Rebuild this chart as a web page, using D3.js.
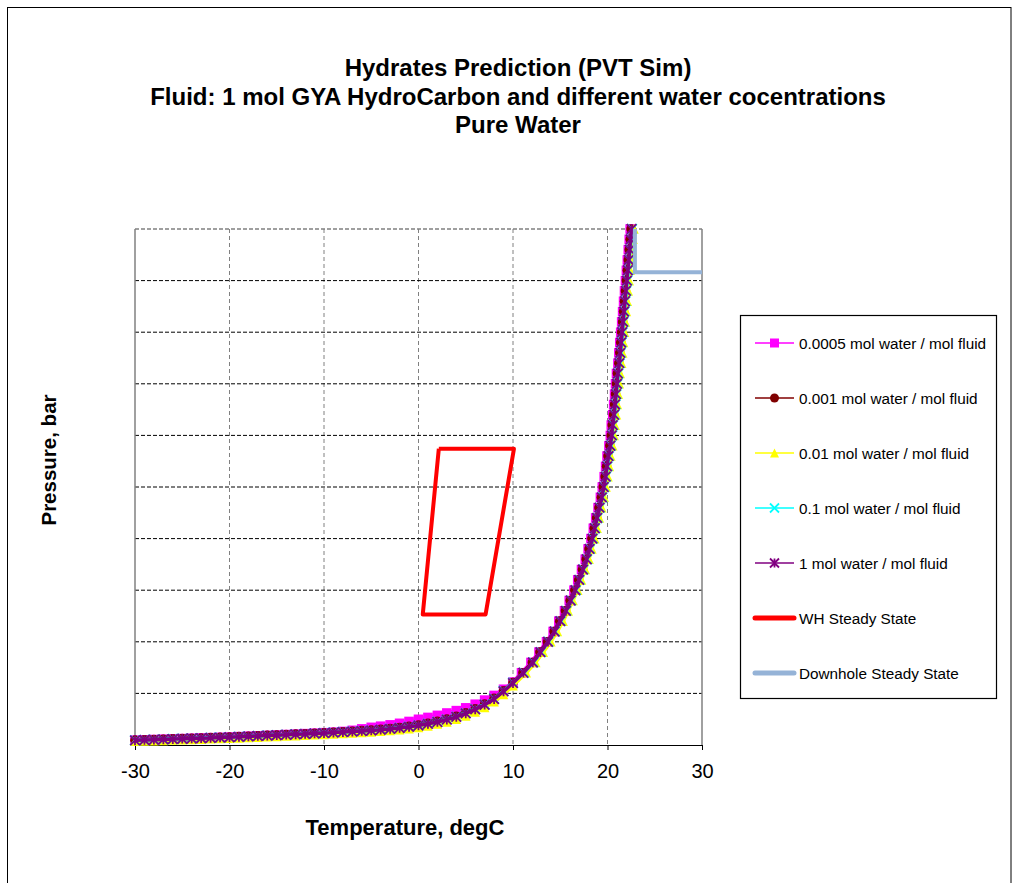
<!DOCTYPE html>
<html><head><meta charset="utf-8">
<script src="https://cdn.jsdelivr.net/npm/d3@7"></script>
<style>body{margin:0;background:#fff;} svg{display:block;font-family:"Liberation Sans",Arial,sans-serif;}</style>
</head><body><svg id="c" width="1019" height="883"></svg>
<script>
// ---- data ----
const titleLines = ["Hydrates Prediction (PVT Sim)", "Fluid: 1 mol GYA HydroCarbon and different water cocentrations", "Pure Water"];
const xTicks = [-30, -20, -10, 0, 10, 20, 30];
const yGrid = [50, 100, 150, 200, 250, 300, 350, 400, 450];
// low-temperature section: shared temperature grid, pressure per series
const tempsLow = [-30,-29,-28,-27,-26,-25,-24,-23,-22,-21,-20,-19,-18,-17,-16,-15,-14,-13,-12,-11,-10,-9,-8,-7,-6,-5,-4,-3,-2,-1,0,1,2,3,4,5,6,7,8,9,10];
// high-pressure section: shared pressure grid, temperature per series
const pressHigh = [70,80,90,100,110,120,130,140,150,160,170,180,190,200,210,220,230,240,250,260,270,280,290,300,310,320,330,340,350,360,370,380,390,400,410,420,430,440,450,460,470,480,490,500];

const seriesNames = ["0.0005 mol water / mol fluid","0.001 mol water / mol fluid","0.01 mol water / mol fluid","0.1 mol water / mol fluid","1 mol water / mol fluid"];
const pLow_00005 = [4.7,5.0,5.3,5.6,5.9,6.2,6.5,6.8,7.1,7.4,7.7,8.1,8.5,8.9,9.3,9.7,10.1,10.5,11.0,11.4,11.9,12.4,13.1,14.2,15.6,17.1,18.2,19.5,21.0,22.8,24.9,26.7,28.7,31.0,33.3,36.0,39.5,43.5,48.0,54.0,61.0];
const pLow_0001  = [4.7,5.0,5.3,5.6,5.9,6.2,6.5,6.8,7.1,7.4,7.7,8.1,8.5,8.9,9.3,9.7,10.1,10.5,10.9,11.3,11.8,12.3,12.8,13.3,13.9,14.5,15.2,16.0,17.0,18.1,19.4,21.0,22.9,25.1,27.8,31.2,35.1,39.6,45.2,52.6,60.6];
const pLow_001   = [3.6,3.9,4.2,4.5,4.8,5.1,5.4,5.7,6.0,6.3,6.6,6.9,7.3,7.6,8.0,8.3,8.7,9.1,9.5,9.9,10.3,10.7,11.2,11.7,12.2,12.7,13.3,14.0,14.8,15.8,17.0,18.5,20.3,22.4,25.0,28.2,32.0,36.5,42.0,49.0,57.5];
const pLow_01    = [4.6,4.9,5.2,5.5,5.8,6.1,6.4,6.7,7.0,7.3,7.6,8.0,8.4,8.8,9.2,9.6,10.0,10.4,10.8,11.2,11.6,12.1,12.6,13.1,13.6,14.2,14.9,15.7,16.7,17.8,19.1,20.7,22.5,24.8,27.5,30.9,34.8,39.3,44.8,52.3,60.3];
const pLow_1     = [4.5,4.8,5.1,5.4,5.7,6.0,6.3,6.6,6.9,7.2,7.5,7.9,8.3,8.7,9.1,9.5,9.9,10.3,10.7,11.1,11.5,12.0,12.5,13.0,13.5,14.1,14.8,15.6,16.5,17.6,18.9,20.5,22.3,24.6,27.2,30.6,34.5,39.0,44.5,52.0,60.0];

const tHigh_00005 = [10.9,11.9,12.75,13.55,14.25,14.85,15.45,15.95,16.45,16.85,17.25,17.65,17.95,18.25,18.5,18.75,19.0,19.25,19.45,19.65,19.8,19.95,20.15,20.3,20.4,20.55,20.65,20.75,20.85,20.95,21.1,21.2,21.3,21.4,21.5,21.6,21.7,21.8,21.9,22.0,22.1,22.2,22.3,22.4];
const tHigh_0001  = [11.05,12.05,12.85,13.65,14.35,14.95,15.55,16.05,16.55,16.95,17.35,17.75,18.05,18.35,18.6,18.85,19.1,19.35,19.55,19.75,19.9,20.05,20.25,20.4,20.5,20.65,20.75,20.85,20.95,21.05,21.2,21.3,21.4,21.5,21.6,21.7,21.8,21.9,22.0,22.1,22.2,22.3,22.4,22.5];
const tHigh_001   = [11.4,12.4,13.2,14.0,14.7,15.3,15.85,16.35,16.85,17.25,17.65,18.05,18.35,18.65,18.9,19.15,19.4,19.65,19.85,20.05,20.2,20.35,20.55,20.7,20.8,20.95,21.05,21.15,21.25,21.35,21.5,21.6,21.7,21.8,21.9,22.0,22.1,22.2,22.3,22.4,22.5,22.6,22.7,22.8];
const tHigh_01    = [11.15,12.15,12.95,13.75,14.45,15.05,15.65,16.15,16.65,17.05,17.45,17.85,18.15,18.45,18.7,18.95,19.2,19.45,19.65,19.85,20.0,20.15,20.35,20.5,20.6,20.75,20.85,20.95,21.05,21.15,21.3,21.4,21.5,21.6,21.7,21.8,21.9,22.0,22.1,22.2,22.3,22.4,22.5,22.6];
const tHigh_1     = [11.1,12.1,12.9,13.7,14.4,15.0,15.6,16.1,16.6,17.0,17.4,17.8,18.1,18.4,18.65,18.9,19.15,19.4,19.6,19.8,19.95,20.1,20.3,20.45,20.55,20.7,20.8,20.9,21.0,21.1,21.25,21.35,21.45,21.55,21.65,21.75,21.85,21.95,22.05,22.15,22.25,22.35,22.45,22.55];

// operating envelopes
const whTemp  = [2.15, 10.1, 7.1, 0.45, 2.15];
const whPress = [287, 287, 126.5, 126.5, 287];
const dhTemp  = [22.9, 22.9, 30];
const dhPress = [500, 458, 458];

// ---- build ----
const pLows = [pLow_00005, pLow_0001, pLow_001, pLow_01, pLow_1];
const tHighs = [tHigh_00005, tHigh_0001, tHigh_001, tHigh_01, tHigh_1];
const colors = ["#FF00FF", "#800000", "#FFFF00", "#00FFFF", "#800080"];
const shapes = ["square", "circle", "triangle", "x", "star"];
const series = seriesNames.map((n, i) => ({
  name: n, color: colors[i], shape: shapes[i],
  pts: tempsLow.map((t, j) => [t, pLows[i][j]]).concat(pressHigh.map((p, j) => [tHighs[i][j], p]))
}));

const svg = d3.select("#c");
svg.append("rect").attr("x", 7.5).attr("y", 7.5).attr("width", 1003.5).attr("height", 900)
  .attr("fill", "#fff").attr("stroke", "#000").attr("stroke-width", 1);

const M = {l: 135, r: 702, t: 229, b: 745};
const x = d3.scaleLinear().domain([-30, 30]).range([M.l, M.r]);
const y = d3.scaleLinear().domain([0, 500]).range([M.b, M.t]);

// title
svg.append("g").selectAll("text").data(titleLines).join("text")
  .attr("x", 518).attr("y", (d, i) => 76 + i * 28.5)
  .attr("text-anchor", "middle").attr("font-size", 24).attr("font-weight", "bold").text(d => d);

// grid
const g = svg.append("g");
g.selectAll(".vg").data(xTicks.slice(1, -1)).join("line")
  .attr("x1", d => x(d)).attr("x2", d => x(d)).attr("y1", M.t).attr("y2", M.b)
  .attr("stroke", "#808080").attr("stroke-dasharray", "4,3");
g.selectAll(".hg").data(yGrid).join("line")
  .attr("x1", M.l).attr("x2", M.r).attr("y1", d => y(d)).attr("y2", d => y(d))
  .attr("stroke", "#000").attr("stroke-dasharray", "4,2");
// plot border
g.append("line").attr("x1", M.l).attr("x2", M.r).attr("y1", y(500)).attr("y2", y(500))
  .attr("stroke", "#808080").attr("stroke-width", 1.5).attr("stroke-dasharray", "4,2");
g.append("line").attr("x1", M.l).attr("x2", M.l).attr("y1", M.t).attr("y2", M.b).attr("stroke", "#808080").attr("stroke-width", 1.5);
g.append("line").attr("x1", M.r).attr("x2", M.r).attr("y1", M.t).attr("y2", M.b).attr("stroke", "#808080").attr("stroke-width", 1.5);

// x axis
const ax = svg.append("g").attr("transform", `translate(0,${M.b})`)
  .call(d3.axisBottom(x).tickValues(xTicks).tickFormat(d => String(d)).tickSize(5).tickPadding(14).tickSizeOuter(0));
ax.select(".domain").attr("stroke", "#000");
ax.selectAll(".tick line").attr("stroke", "#000");
ax.selectAll("text").attr("font-size", 20).attr("font-family", "Liberation Sans, Arial, sans-serif").attr("fill", "#000");

// axis titles
svg.append("text").attr("x", 405).attr("y", 835).attr("text-anchor", "middle")
  .attr("font-size", 22).attr("font-weight", "bold").text("Temperature, degC");
svg.append("text").attr("transform", "translate(56,460) rotate(-90)").attr("text-anchor", "middle")
  .attr("font-size", 20.5).attr("font-weight", "bold").text("Pressure, bar");

// marker drawing
function marker(sel, shape, color, h) {
  if (shape === "square") sel.append("rect").attr("x", -h).attr("y", -h).attr("width", 2 * h).attr("height", 2 * h).attr("fill", color);
  else if (shape === "circle") sel.append("circle").attr("r", h).attr("fill", color);
  else if (shape === "triangle") sel.append("path").attr("d", `M0,${-h}L${h},${h}L${-h},${h}Z`).attr("fill", color);
  else if (shape === "x") sel.append("path").attr("d", `M${-h},${-h}L${h},${h}M${-h},${h}L${h},${-h}`).attr("stroke", color).attr("stroke-width", 1.8);
  else sel.append("path").attr("d", `M${-h},${-h}L${h},${h}M${-h},${h}L${h},${-h}M0,${-h}L0,${h}`).attr("stroke", color).attr("stroke-width", 1.8);
}

const line = d3.line().x(d => x(d[0])).y(d => y(d[1]));
series.forEach(s => {
  const sg = svg.append("g");
  sg.append("path").attr("d", line(s.pts)).attr("fill", "none").attr("stroke", s.color).attr("stroke-width", 3.5);
  sg.selectAll("g").data(s.pts).join("g")
    .attr("transform", d => `translate(${x(d[0])},${y(d[1])})`)
    .each(function () { marker(d3.select(this), s.shape, s.color, 4.8); });
});

// WH and downhole
svg.append("path").attr("d", line(whTemp.map((t, i) => [t, whPress[i]])))
  .attr("fill", "none").attr("stroke", "#FF0000").attr("stroke-width", 4).attr("stroke-linejoin", "round");
svg.append("path").attr("d", line(dhTemp.map((t, i) => [t, dhPress[i]])))
  .attr("fill", "none").attr("stroke", "#95B3D7").attr("stroke-width", 4);

// legend
const L = svg.append("g");
L.append("rect").attr("x", 740.5).attr("y", 315.5).attr("width", 256).attr("height", 383)
  .attr("fill", "#fff").attr("stroke", "#000").attr("stroke-width", 1.2);
const legItems = series.map(s => ({name: s.name, color: s.color, shape: s.shape, w: 1.5}))
  .concat([{name: "WH Steady State", color: "#FF0000", w: 5}, {name: "Downhole Steady State", color: "#95B3D7", w: 5}]);
legItems.forEach((d, i) => {
  const cy = 343 + i * 55;
  const lg = L.append("g");
  lg.append("line").attr("x1", 755).attr("x2", 794).attr("y1", cy).attr("y2", cy)
    .attr("stroke", d.color).attr("stroke-width", d.w).attr("stroke-linecap", d.shape ? "butt" : "round");
  if (d.shape) marker(lg.append("g").attr("transform", `translate(774.5,${cy})`), d.shape, d.color, 4.5);
  lg.append("text").attr("x", 799).attr("y", cy + 5.5).attr("font-size", 15.3).text(d.name);
});
</script></body></html>
